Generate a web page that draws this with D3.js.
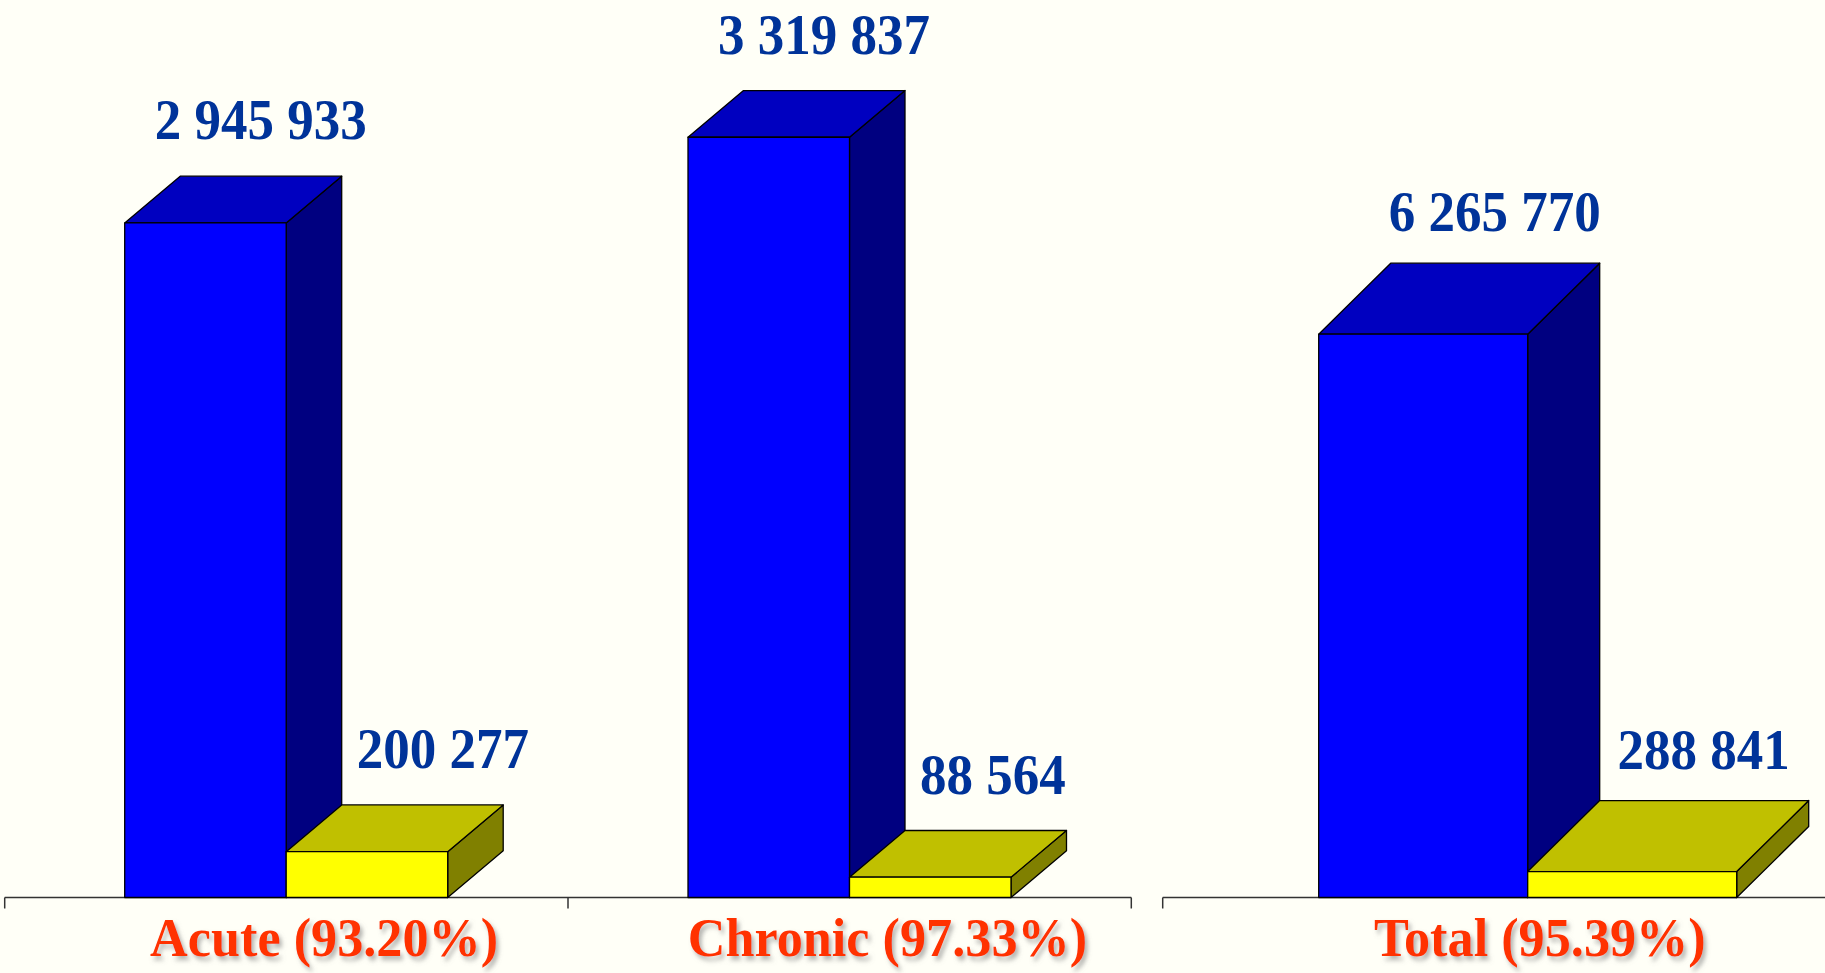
<!DOCTYPE html>
<html>
<head>
<meta charset="utf-8">
<script src="https://cdn.jsdelivr.net/npm/d3@7/dist/d3.min.js"></script>
<style>
    html, body { margin: 0; padding: 0; background: #fffff7; overflow: hidden; }
    svg { display: block; }
</style>
</head>
<body>
<svg id="chart" width="1825" height="973"></svg>
<script>
// chart data
var seriesKeys = ["treated", "other"];
var categories = ["Acute (93.20%)", "Chronic (97.33%)"];
var treatedValues = [2945933, 3319837];
var otherValues = [200277, 88564];
var totalCategories = ["Total (95.39%)"];
var totalTreatedValues = [6265770];
var totalOtherValues = [288841];

var colors = {
    treated: {front: "#0000ff", top: "#0000c0", side: "#000080"},
    other: {front: "#ffff00", top: "#c0c000", side: "#808000"}
};

var baselineY = 897.5;

/**
 * One 3D column panel sharing a baseline with the others.
 * @param {Object} options - override of the defaults
 * @constructor
 */
function BarPanel(options) {

    var self = this,
        defaults = {
            valueColor: "#003399",
            labelColor: "#ff3300",
            font: "'Liberation Serif', 'Times New Roman', serif"
        };

    self.config = Object.assign({}, defaults, options || {});

    /**
     * Build scales and draw everything
     */
    self.initialize = function (svg) {
        var c = self.config;

        self.g = svg.append("g");
        self.x = d3.scaleBand().domain(c.categories).range(c.xRange);
        self.y = d3.scaleLinear().domain([0, c.yMax]).range([baselineY, c.yTop]);
        self.inner = d3.scaleBand().domain(seriesKeys)
            .range([c.innerStart, c.innerStart + 2 * c.barWidth]);

        self._drawAxis();

        c.categories.forEach(function (cat, i) {
            var vals = {treated: c.treated[i], other: c.other[i]};
            seriesKeys.forEach(function (key) {
                self._drawBar(cat, key, vals[key]);
            });
            seriesKeys.forEach(function (key, k) {
                // keep a label clear of the previous column's side face
                var minLeft = k > 0 ? self.x(cat) + self.inner(seriesKeys[k - 1]) + self.inner.bandwidth() + c.dx + 15 : -Infinity;
                self._drawValue(cat, key, vals[key], minLeft);
            });
            self._drawCategory(cat);
        });

        return self;
    };

    /**
     * Baseline with the tick marks at the band edges
     * @private
     */
    self._drawAxis = function () {
        var c = self.config;

        self.g.append("line")
            .attr("x1", c.xRange[0])
            .attr("x2", c.axisEnd)
            .attr("y1", baselineY)
            .attr("y2", baselineY)
            .attr("stroke", "#333")
            .attr("stroke-width", 1.5);

        var edges = c.categories.map(function (d) { return self.x(d); });
        if (c.closeTicks) edges.push(c.xRange[1]);

        self.g.selectAll(".tick").data(edges).enter().append("line")
            .attr("x1", function (d) { return d; })
            .attr("x2", function (d) { return d; })
            .attr("y1", baselineY)
            .attr("y2", baselineY + 11)
            .attr("stroke", "#333")
            .attr("stroke-width", 1.5);
    };

    /**
     * Front, top and side faces of one column
     * @private
     */
    self._drawBar = function (cat, key, value) {
        var c = self.config,
            x0 = self.x(cat) + self.inner(key),
            x1 = x0 + self.inner.bandwidth(),
            yT = self.y(value),
            y0 = self.y(0),
            dx = c.dx,
            dy = c.dy,
            col = colors[key];

        var faces = [
            {fill: col.side, pts: [[x1, yT], [x1 + dx, yT - dy], [x1 + dx, y0 - dy], [x1, y0]]},
            {fill: col.top, pts: [[x0, yT], [x0 + dx, yT - dy], [x1 + dx, yT - dy], [x1, yT]]},
            {fill: col.front, pts: [[x0, yT], [x1, yT], [x1, y0], [x0, y0]]}
        ];

        faces.forEach(function (f) {
            self.g.append("polygon")
                .attr("points", f.pts.map(function (p) { return p.join(","); }).join(" "))
                .attr("fill", f.fill)
                .attr("stroke", "#000")
                .attr("stroke-width", 1.3)
                .attr("stroke-linejoin", "round");
        });
    };

    /**
     * Value label above the column (condensed bold serif)
     * @private
     */
    self._drawValue = function (cat, key, value, minLeft) {
        var c = self.config,
            w = self.inner.bandwidth(),
            x = self.x(cat) + self.inner(key) + w / 2 + c.dx / 2 + w * 0.17,
            y = self.y(value) - c.dy - c.labelGap;

        var t = self.g.append("text")
            .attr("text-anchor", "middle")
            .attr("fill", c.valueColor)
            .style("font-family", c.font)
            .style("font-size", "57px")
            .style("font-weight", "bold")
            .text(d3.format(",")(value).replace(/,/g, " "));

        var half = t.node().getComputedTextLength() * 0.93 / 2;
        if (x - half < minLeft) x = minLeft + half;

        t.attr("transform", "translate(" + x + "," + y + ") scale(0.93,1)");
    };

    /**
     * Category label under the axis
     * @private
     */
    self._drawCategory = function (cat) {
        var c = self.config,
            x = self.x(cat) + self.x.bandwidth() / 2 + c.dx / 2 + 10;

        self.g.append("text")
            .attr("transform", "translate(" + x + ",956) scale(0.95,1)")
            .attr("text-anchor", "middle")
            .attr("fill", c.labelColor)
            .attr("filter", "url(#shadow)")
            .style("font-family", c.font)
            .style("font-size", "55px")
            .style("font-weight", "bold")
            .text(cat);
    };
}

var svg = d3.select("#chart");

svg.append("rect")
    .attr("width", 1825)
    .attr("height", 973)
    .attr("fill", "#fffff7");

svg.append("defs").append("filter")
    .attr("id", "shadow")
    .attr("x", "-10%").attr("y", "-20%")
    .attr("width", "130%").attr("height", "160%")
    .append("feDropShadow")
    .attr("dx", 3)
    .attr("dy", 4)
    .attr("stdDeviation", 2.5)
    .attr("flood-color", "#777")
    .attr("flood-opacity", 0.55);

new BarPanel({
    categories: categories,
    treated: treatedValues,
    other: otherValues,
    xRange: [4.7, 1131.3],
    axisEnd: 1131.3,
    closeTicks: true,
    yMax: 3.5e6,
    yTop: baselineY - 3.5 * 229,
    innerStart: 120,
    barWidth: 161.5,
    dx: 55.5,
    dy: 46.7,
    labelGap: 37
}).initialize(svg);

new BarPanel({
    categories: totalCategories,
    treated: totalTreatedValues,
    other: totalOtherValues,
    xRange: [1162.7, 1825],
    axisEnd: 1825,
    closeTicks: false,
    yMax: 7e6,
    yTop: baselineY - 7 * 89.9,
    innerStart: 156,
    barWidth: 209,
    dx: 72,
    dy: 71,
    labelGap: 32
}).initialize(svg);
</script>
</body>
</html>
